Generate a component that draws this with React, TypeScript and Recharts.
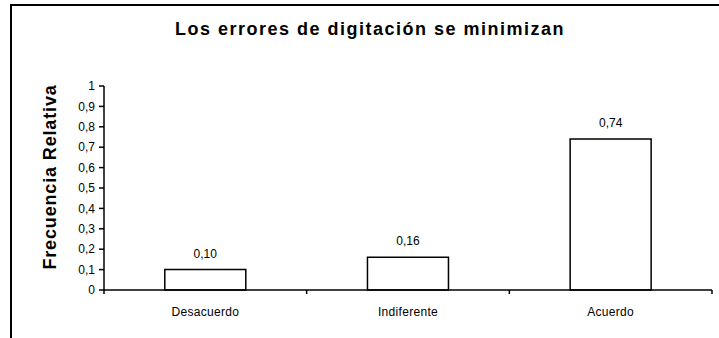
import React from 'react';
import { BarChart, Bar, XAxis, YAxis, LabelList } from 'recharts';

const categories = ['Desacuerdo', 'Indiferente', 'Acuerdo'];
const frequencies = [0.1, 0.16, 0.74];
const yTicks = [0, 0.1, 0.2, 0.3, 0.4, 0.5, 0.6, 0.7, 0.8, 0.9, 1];

const data = categories.map((name, i) => ({ name, value: frequencies[i] }));

const FONT = '"Liberation Sans", Arial, sans-serif';
const LABEL_GAP = 17;
const EDGE_TICK = 4;

const comma = (v: number, digits?: number) =>
  (digits === undefined ? String(v) : v.toFixed(digits)).replace('.', ',');

// Category label plus tick marks on the band boundaries (left edge, and right edge for the last band)
const CategoryTick = (props: any) => {
  const { x, y, payload, index, visibleTicksCount } = props;
  const half = payload?.offset ?? 0;
  const axisY = y - LABEL_GAP;
  const last = index === (visibleTicksCount ?? categories.length) - 1;
  return (
    <g>
      <line x1={x - half} y1={axisY} x2={x - half} y2={axisY + EDGE_TICK} stroke="#000" strokeWidth={1.5} />
      {last && <line x1={x + half} y1={axisY} x2={x + half} y2={axisY + EDGE_TICK} stroke="#000" strokeWidth={1.5} />}
      <text x={x} y={y} dy="0.71em" textAnchor="middle" fontFamily={FONT} fontSize={12} letterSpacing={0.3} fill="#000">
        {payload.value}
      </text>
    </g>
  );
};

export default function App() {
  return (
    <div style={{ position: 'absolute', left: 0, top: 0, width: 719, height: 338, background: '#fff' }}>
      <svg width={719} height={338} style={{ position: 'absolute', left: 0, top: 0 }}>
        <line x1={11} y1={4} x2={11} y2={338} stroke="#000" strokeWidth={2} />
        <line x1={10} y1={5} x2={719} y2={5} stroke="#000" strokeWidth={2} />
        <text x={370} y={35} textAnchor="middle" fontFamily={FONT} fontWeight="bold" fontSize={18} letterSpacing={1.5} fill="#000">
          Los errores de digitación se minimizan
        </text>
        <text
          x={0}
          y={0}
          transform="translate(56,177) rotate(-90)"
          textAnchor="middle"
          fontFamily={FONT}
          fontWeight="bold"
          fontSize={18}
          letterSpacing={0.85}
          fill="#000"
        >
          Frecuencia Relativa
        </text>
      </svg>
      <div style={{ position: 'absolute', left: 0, top: 0 }}>
        <BarChart
          width={719}
          height={338}
          data={data}
          margin={{ top: 86, right: 7, bottom: 18, left: 64 }}
          barCategoryGap="30%"
        >
          <XAxis
            dataKey="name"
            tickLine={false}
            tickSize={0}
            tickMargin={LABEL_GAP}
            height={30}
            interval={0}
            tick={<CategoryTick />}
            axisLine={{ stroke: '#000', strokeWidth: 1.5 }}
          />
          <YAxis
            domain={[0, 1]}
            ticks={yTicks}
            width={40}
            tickSize={5}
            tickMargin={4}
            interval={0}
            tickFormatter={(v: number) => comma(Math.round(v * 10) / 10)}
            tick={{ fontFamily: FONT, fontSize: 12, fill: '#000' }}
            axisLine={{ stroke: '#000', strokeWidth: 1.5 }}
            tickLine={{ stroke: '#000', strokeWidth: 1.5 }}
          />
          <Bar dataKey="value" fill="#fff" stroke="#000" strokeWidth={1.5} isAnimationActive={false}>
            <LabelList
              dataKey="value"
              position="top"
              offset={12}
              formatter={(v: number) => comma(v, 2)}
              style={{ fontFamily: FONT, fontSize: 12, fill: '#000' }}
            />
          </Bar>
        </BarChart>
      </div>
    </div>
  );
}
